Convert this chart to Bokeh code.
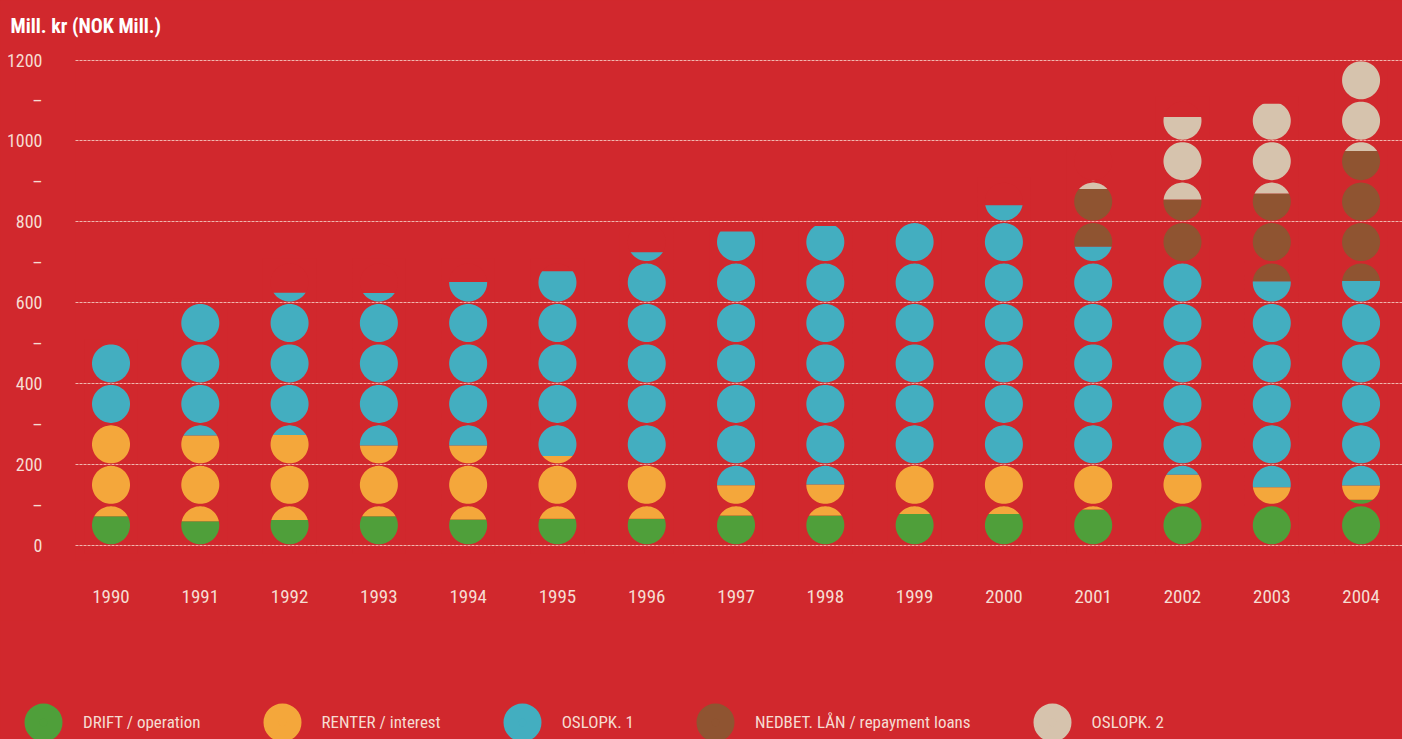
import math
from bokeh.plotting import figure
from bokeh.layouts import column
from bokeh.models import FixedTicker, Legend, LegendItem, ColumnDataSource
from bokeh.embed import file_html
from bokeh.resources import INLINE

# ---------------- data (mill. kr) ----------------
years = [1990, 1991, 1992, 1993, 1994, 1995, 1996, 1997, 1998, 1999, 2000, 2001, 2002, 2003, 2004]
drift = [72, 60, 63, 72, 64, 66, 66, 74, 74, 78, 78, 89, 98, 100, 113]
renter = [228, 212, 210, 175, 183, 155, 134, 75, 77, 122, 122, 111, 77, 44, 35]
oslopk1 = [200, 328, 352, 377, 404, 457, 525, 627, 639, 600, 641, 539, 525, 509, 506]
nedbet = [0, 0, 0, 0, 0, 0, 0, 0, 0, 0, 0, 142, 155, 217, 321]
oslopk2 = [0, 0, 0, 0, 0, 0, 0, 0, 0, 0, 0, 22, 204, 222, 222]

series_keys = ["drift", "renter", "oslopk1", "nedbet", "oslopk2"]
series_labels = ["DRIFT / operation", "RENTER / interest", "OSLOPK. 1",
                 "NEDBET. LÅN / repayment loans", "OSLOPK. 2"]
series_colors = ["#4f9f3a", "#f4a73b", "#43aec0", "#8f5431", "#d6c3ad"]

y_ticks = [0, 100, 200, 300, 400, 500, 600, 700, 800, 900, 1000, 1100, 1200]
y_tick_labels = ["0", "–", "200", "–", "400", "–", "600", "–", "800", "–", "1000", "–", "1200"]
grid_ticks = [0, 200, 400, 600, 800, 1000, 1200]
unit_per_circle = 100
title_text = "Mill. kr (NOK Mill.)"

# ---------------- style / layout ----------------
RED = "#d1282d"
TXT = "#f6dcd2"
GRID = "#f0b6ae"
FONT = "Roboto Condensed"

W, H1, H2 = 1402, 620, 119
LEFT, TOP, BOTTOM = 75, 45, 60
PX_YEAR = 89.29          # pixels per year
PX_UNIT = 0.40458        # pixels per mill. kr
R_PX = 19.0              # circle radius in pixels

x_start = years[0] - 35.5 / PX_YEAR
x_end = x_start + (W - LEFT) / PX_YEAR
y_start = -15.0 / PX_UNIT
y_end = y_start + (H1 - TOP - BOTTOM) / PX_UNIT

p = figure(width=W, height=H1, x_range=(x_start, x_end), y_range=(y_start, y_end),
           output_backend="svg", toolbar_location=None,
           min_border_left=LEFT, min_border_right=0, min_border_top=TOP, min_border_bottom=BOTTOM,
           background_fill_color=RED, border_fill_color=RED, outline_line_color=None,
           styles={"background-color": RED})
p.frame_align = False

p.title.text = title_text
p.title.text_font = FONT
p.title.text_font_style = "bold"
p.title.text_font_size = "20px"
p.title.text_color = "#ffffff"
p.title.align = "left"
p.title.offset = -65
p.title.standoff = 15

src = ColumnDataSource(dict(year=years, drift=drift, renter=renter, oslopk1=oslopk1,
                            nedbet=nedbet, oslopk2=oslopk2))
BAR_W = 2 * (R_PX + 1.5) / PX_YEAR
p.vbar_stack(series_keys, x="year", width=BAR_W, fill_color=series_colors,
             line_color=None, source=src)

rx = R_PX / PX_YEAR
ry = R_PX / PX_UNIT


def ring(cx, cy, n=90):
    xs = [cx + rx * math.cos(2 * math.pi * i / n) for i in range(n)]
    ys = [cy + ry * math.sin(2 * math.pi * i / n) for i in range(n)]
    return xs, ys


totals = [sum(v) for v in zip(drift, renter, oslopk1, nedbet, oslopk2)]
mask_xs, mask_ys = [], []
half = 0.3
for yr, tot in zip(years, totals):
    n = math.ceil(tot / unit_per_circle - 1e-9)
    top = n * unit_per_circle + 10
    rings_x = [[yr - half, yr + half, yr + half, yr - half]]
    rings_y = [[-20, -20, top, top]]
    for k in range(n):
        hx, hy = ring(yr, unit_per_circle * (k + 0.5))
        rings_x.append(hx)
        rings_y.append(hy)
    mask_xs.append([rings_x])
    mask_ys.append([rings_y])
p.multi_polygons(xs=mask_xs, ys=mask_ys, fill_color=RED, line_color=None)

p.xaxis.ticker = FixedTicker(ticks=years)
p.xaxis.major_label_overrides = {y: str(y) for y in years}
p.yaxis.ticker = FixedTicker(ticks=y_ticks)
p.yaxis.major_label_overrides = {t: lab for t, lab in zip(y_ticks, y_tick_labels)}
for ax in (p.xaxis, p.yaxis):
    ax.axis_line_color = None
    ax.major_tick_line_color = None
    ax.minor_tick_line_color = None
    ax.major_label_text_color = TXT
    ax.major_label_text_font = FONT
p.xaxis.major_label_text_font_size = "19px"
p.xaxis.major_label_standoff = 23
p.yaxis.major_label_text_font_size = "18px"
p.yaxis.major_label_standoff = 27

p.xgrid.visible = False
p.ygrid.ticker = FixedTicker(ticks=grid_ticks)
p.ygrid.grid_line_color = GRID
p.ygrid.grid_line_width = 1
p.ygrid.grid_line_dash = "3 1"
p.ygrid.level = "annotation"

# legend strip (its glyph points lie outside this strip's ranges, only the legend shows)
q = figure(frame_width=W, frame_height=H2, x_range=(0, 1), y_range=(0, 1), title=None,
           output_backend="svg", toolbar_location=None, min_border=0,
           background_fill_color=RED, border_fill_color=RED, outline_line_color=None,
           styles={"background-color": RED})
q.frame_align = False
q.axis.visible = False
q.grid.visible = False
items = []
for key, lab, col in zip(series_keys, series_labels, series_colors):
    r = q.scatter(x="year", y=key, source=src, marker="circle", size=15.2,
                  fill_color=col, line_color=col, line_width=22.8)
    items.append(LegendItem(label=lab, renderers=[r]))
leg = Legend(items=items, orientation="horizontal", location=(23, -2),
             glyph_width=40, glyph_height=38, label_standoff=20, spacing=61,
             padding=0, margin=0, border_line_color=None, background_fill_alpha=0,
             label_text_font=FONT, label_text_font_size="17px",
             label_text_color=TXT)
q.add_layout(leg)

layout = column(p, q, spacing=0, styles={"background-color": RED})
open("out.html", "w").write(file_html(layout, INLINE))
